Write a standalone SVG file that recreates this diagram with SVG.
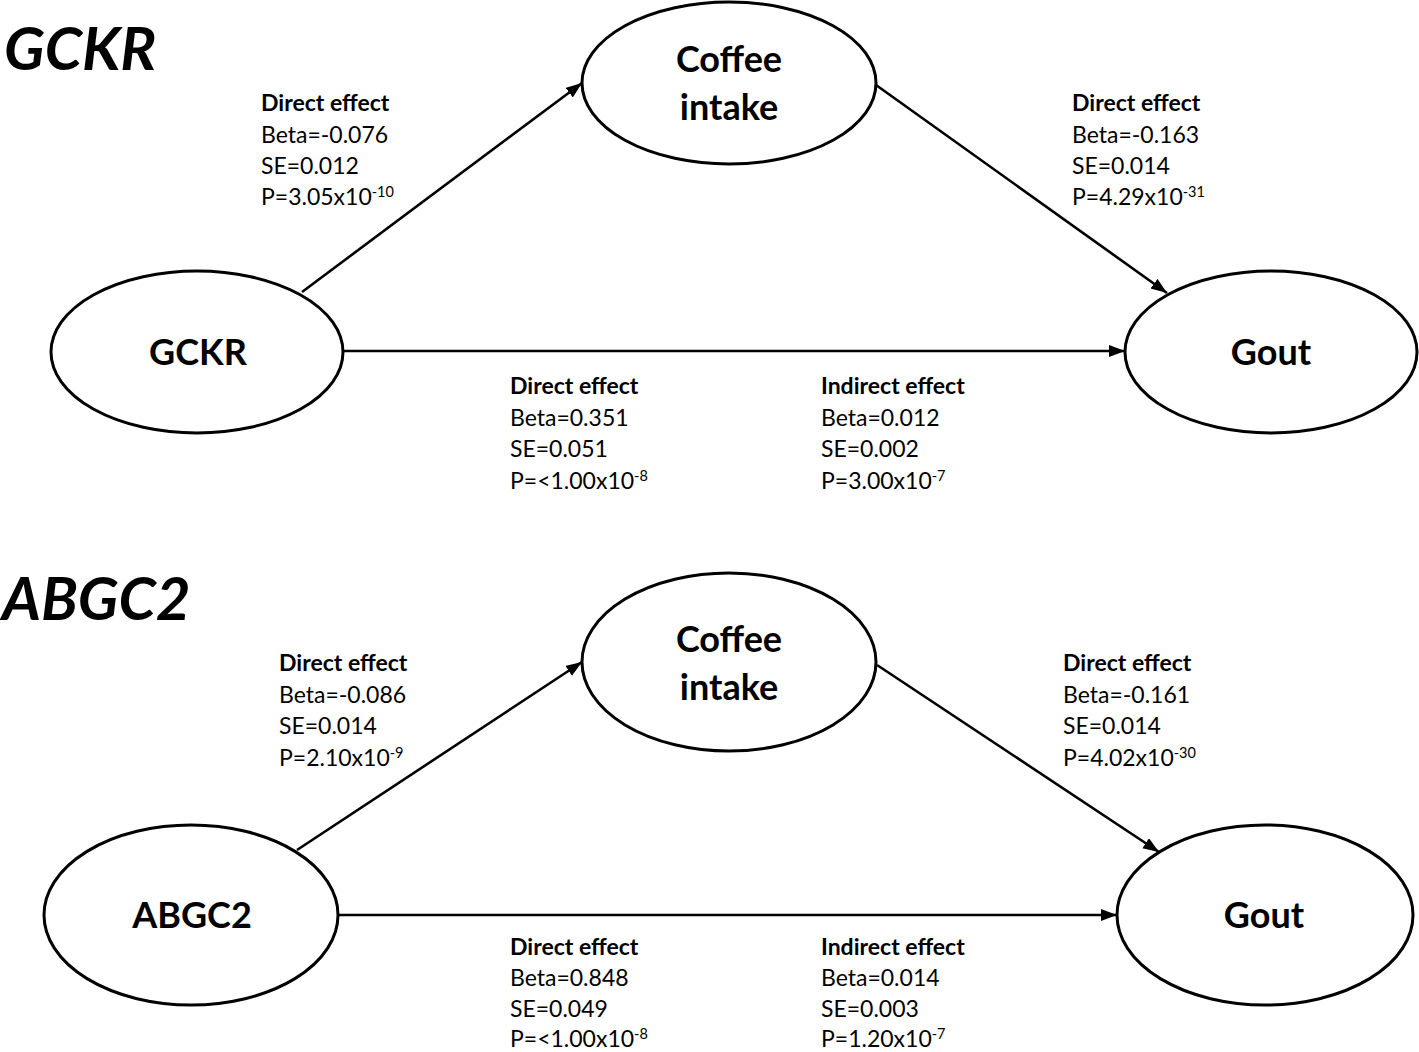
<svg xmlns="http://www.w3.org/2000/svg" width="1419" height="1052" viewBox="0 0 1419 1052">
  <style>
    .node { fill: #ffffff; stroke: #000000; stroke-width: 3; }
    .edge { stroke: #000000; stroke-width: 2.6; fill: none; marker-end: url(#arrow); }
    .title { font-family: Lato, "Open Sans", sans-serif; font-weight: 700; font-style: italic; font-size: 60px; fill: #000; }
    .ntext { font-family: Lato, "Open Sans", sans-serif; font-weight: 700; font-size: 36px; fill: #000; text-anchor: middle; }
    .lbl { font-family: Lato, "Open Sans", sans-serif; font-size: 23px; fill: #000; }
    .lbl .h { font-weight: 700; }
    .sup { font-size: 14.5px; }
  </style>
  <defs>
    <marker id="arrow" markerUnits="userSpaceOnUse" markerWidth="18" markerHeight="14" refX="16" refY="6" orient="auto">
      <path d="M0,0 L16,6 L0,12 z" fill="#000"/>
    </marker>
  </defs>
  <rect width="1419" height="1052" fill="#ffffff"/>

  <text class="title" x="4" y="70">GCKR</text>
  <text class="title" x="2" y="620">ABGC2</text>

  <g id="connectors">
    <line class="edge" x1="302" y1="292" x2="582" y2="83"/>
    <line class="edge" x1="876" y1="85" x2="1167" y2="293"/>
    <line class="edge" x1="343" y1="351" x2="1125" y2="351"/>
    <line class="edge" x1="297" y1="850" x2="582" y2="662"/>
    <line class="edge" x1="877" y1="665" x2="1159" y2="852"/>
    <line class="edge" x1="338" y1="915" x2="1117" y2="915"/>
  </g>

  <g id="node-coffee-1">
    <ellipse class="node" cx="729" cy="83" rx="147" ry="81"/>
    <text class="ntext" x="729" y="72">Coffee</text>
    <text class="ntext" x="729" y="120">intake</text>
  </g>
  <g id="node-gckr">
    <ellipse class="node" cx="197" cy="352" rx="146" ry="81"/>
    <text class="ntext" x="198" y="365">GCKR</text>
  </g>
  <g id="node-gout-1">
    <ellipse class="node" cx="1271" cy="352" rx="146" ry="81"/>
    <text class="ntext" x="1271" y="365">Gout</text>
  </g>

  <g id="node-coffee-2">
    <ellipse class="node" cx="729" cy="662" rx="147" ry="89"/>
    <text class="ntext" x="729" y="652">Coffee</text>
    <text class="ntext" x="729" y="700">intake</text>
  </g>
  <g id="node-abgc2">
    <ellipse class="node" cx="191" cy="915" rx="147" ry="90"/>
    <text class="ntext" x="192" y="928">ABGC2</text>
  </g>
  <g id="node-gout-2">
    <ellipse class="node" cx="1265" cy="915" rx="148" ry="90"/>
    <text class="ntext" x="1264" y="928">Gout</text>
  </g>

  <g id="labels-top">
    <text class="lbl" x="261" y="111"><tspan class="h">Direct effect</tspan></text>
    <text class="lbl" x="261" y="143">Beta=-0.076</text>
    <text class="lbl" x="261" y="174">SE=0.012</text>
    <text class="lbl" x="261" y="205">P=3.05x10<tspan class="sup" dy="-8">-10</tspan></text>

    <text class="lbl" x="1072" y="111"><tspan class="h">Direct effect</tspan></text>
    <text class="lbl" x="1072" y="143">Beta=-0.163</text>
    <text class="lbl" x="1072" y="174">SE=0.014</text>
    <text class="lbl" x="1072" y="205">P=4.29x10<tspan class="sup" dy="-8">-31</tspan></text>

    <text class="lbl" x="510" y="394"><tspan class="h">Direct effect</tspan></text>
    <text class="lbl" x="510" y="426">Beta=0.351</text>
    <text class="lbl" x="510" y="457">SE=0.051</text>
    <text class="lbl" x="510" y="489">P=&lt;1.00x10<tspan class="sup" dy="-8">-8</tspan></text>

    <text class="lbl" x="821" y="394"><tspan class="h">Indirect effect</tspan></text>
    <text class="lbl" x="821" y="426">Beta=0.012</text>
    <text class="lbl" x="821" y="457">SE=0.002</text>
    <text class="lbl" x="821" y="489">P=3.00x10<tspan class="sup" dy="-8">-7</tspan></text>
  </g>

  <g id="labels-bottom">
    <text class="lbl" x="279" y="671"><tspan class="h">Direct effect</tspan></text>
    <text class="lbl" x="279" y="703">Beta=-0.086</text>
    <text class="lbl" x="279" y="734">SE=0.014</text>
    <text class="lbl" x="279" y="766">P=2.10x10<tspan class="sup" dy="-8">-9</tspan></text>

    <text class="lbl" x="1063" y="671"><tspan class="h">Direct effect</tspan></text>
    <text class="lbl" x="1063" y="703">Beta=-0.161</text>
    <text class="lbl" x="1063" y="734">SE=0.014</text>
    <text class="lbl" x="1063" y="766">P=4.02x10<tspan class="sup" dy="-8">-30</tspan></text>

    <text class="lbl" x="510" y="955"><tspan class="h">Direct effect</tspan></text>
    <text class="lbl" x="510" y="986">Beta=0.848</text>
    <text class="lbl" x="510" y="1017">SE=0.049</text>
    <text class="lbl" x="510" y="1047">P=&lt;1.00x10<tspan class="sup" dy="-8">-8</tspan></text>

    <text class="lbl" x="821" y="955"><tspan class="h">Indirect effect</tspan></text>
    <text class="lbl" x="821" y="986">Beta=0.014</text>
    <text class="lbl" x="821" y="1017">SE=0.003</text>
    <text class="lbl" x="821" y="1047">P=1.20x10<tspan class="sup" dy="-8">-7</tspan></text>
  </g>
</svg>
